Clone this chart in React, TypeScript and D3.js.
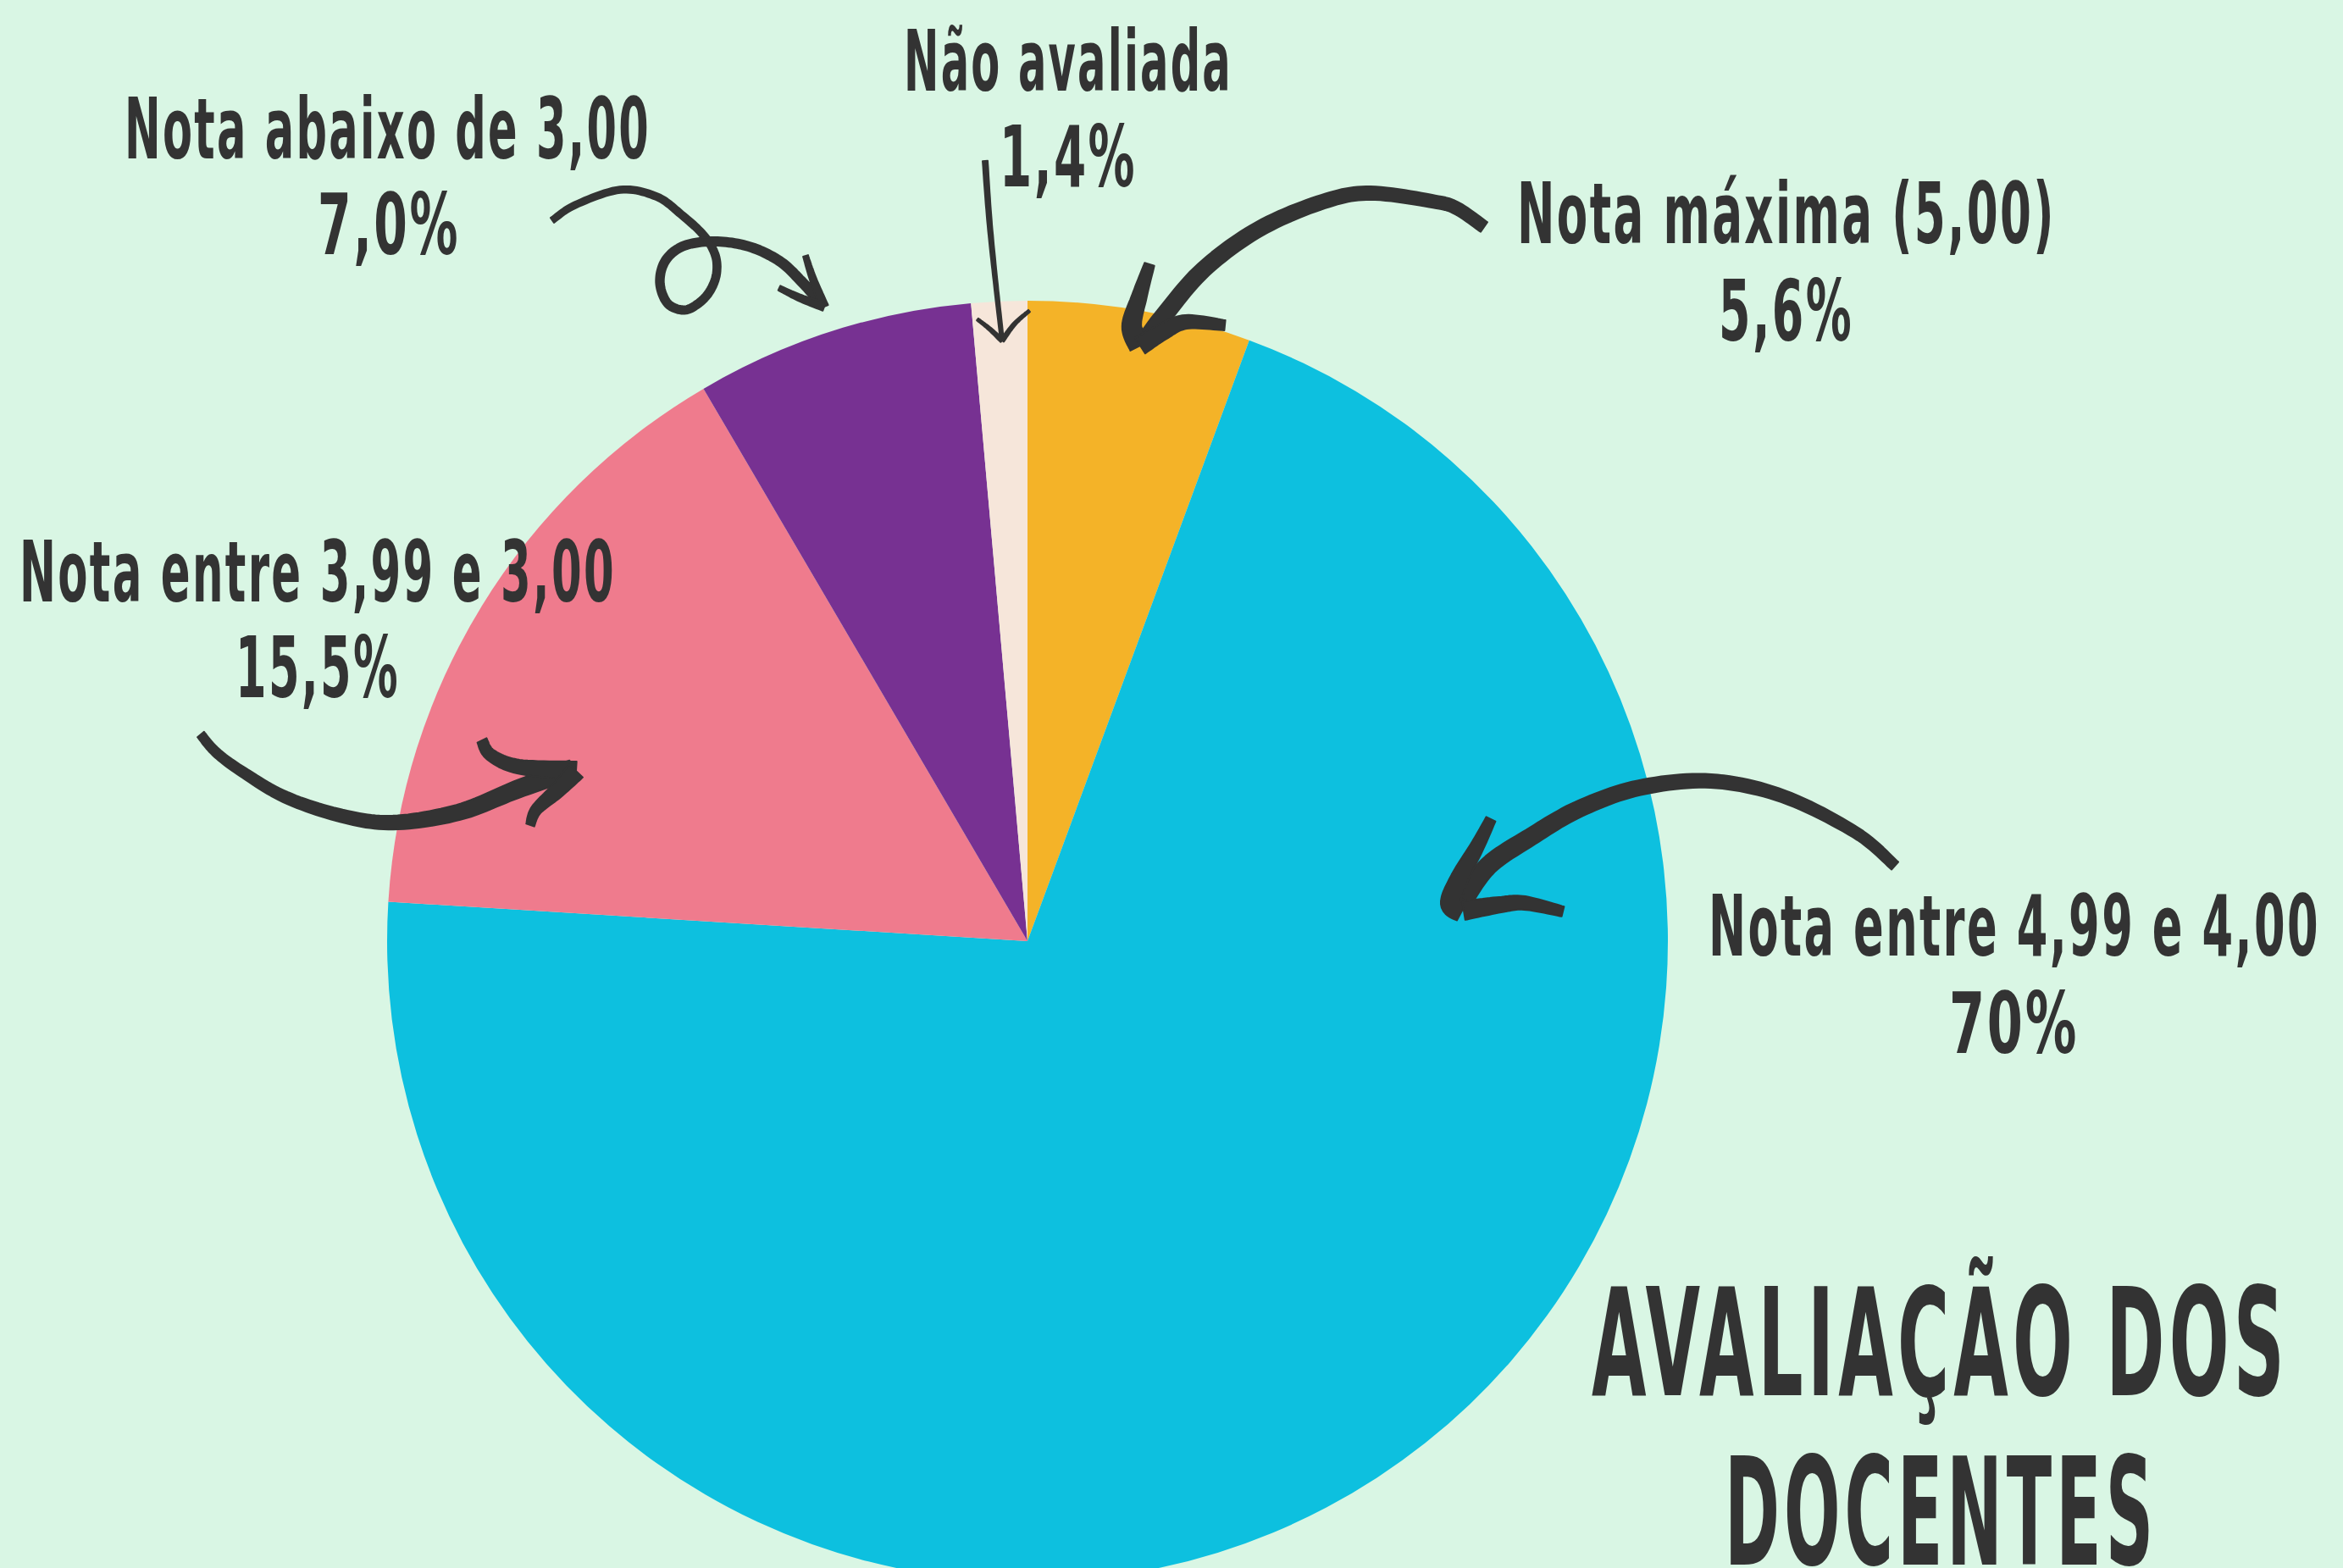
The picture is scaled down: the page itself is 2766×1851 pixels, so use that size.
import React, { useMemo } from "react";
import * as d3 from "d3";

// ---- data ----
const categories = [
  "Nota máxima (5,00)",
  "Nota entre 4,99 e 4,00",
  "Nota entre 3,99 e 3,00",
  "Nota abaixo de 3,00",
  "Não avaliada",
];
const values = [5.6, 70, 15.5, 7.0, 1.4];
const valueLabels = ["5,6%", "70%", "15,5%", "7,0%", "1,4%"];
const sliceColors = ["#f4b328", "#0dc0df", "#ef7b8d", "#773192", "#f6e6da"];
const titleLines = ["AVALIAÇÃO DOS", "DOCENTES"];

// ---- layout (annotation placement) ----
const W = 2766;
const H = 1851;
const CX = 1213;
const CY = 1111;
const R = 756;
const BG = "#d9f6e4";
const INK = "#333333";
const FONT = "'DejaVu Sans Condensed', 'DejaVu Sans', sans-serif";

const labelLayout = [
  { x: 1791, nameY: 287, nameW: 636, pctX: 2029, pctY: 402, pctW: 159 },
  { x: 2017, nameY: 1128, nameW: 722, pctX: 2301, pctY: 1243, pctW: 153 },
  { x: 23, nameY: 710, nameW: 704, pctX: 278, pctY: 823, pctW: 194 },
  { x: 147, nameY: 187, nameW: 621, pctX: 375, pctY: 300, pctW: 168 },
  { x: 1067, nameY: 107, nameW: 388, pctX: 1180, pctY: 220, pctW: 162 },
];
const titleLayout = [
  { x: 1879, y: 1647, w: 823 },
  { x: 2036, y: 1847, w: 511 },
];

type P = [number, number];
type Stroke = { pts: P[]; w0: number; w1: number };

const arrows: Stroke[][] = [
  // Nota máxima
  [
    { pts: [[1752, 268], [1720, 246], [1693, 238], [1618, 228], [1562, 238], [1487, 270], [1421, 318], [1372, 375], [1352, 403]], w0: 14, w1: 20 },
    { pts: [[1357, 312], [1345, 350], [1336, 385], [1346, 408]], w0: 12, w1: 26 },
    { pts: [[1446, 384], [1400, 380], [1372, 392], [1346, 408]], w0: 12, w1: 22 },
  ],
  // Nota entre 4,99 e 4,00
  [
    { pts: [[2237, 1022], [2191, 983], [2105, 940], [2020, 922], [1935, 930], [1864, 955], [1807, 988], [1757, 1022], [1725, 1066]], w0: 12, w1: 22 },
    { pts: [[1760, 967], [1745, 997], [1723, 1037], [1713, 1066], [1726, 1075]], w0: 12, w1: 26 },
    { pts: [[1845, 1076], [1800, 1066], [1771, 1068], [1728, 1075]], w0: 12, w1: 22 },
  ],
  // Nota entre 3,99 e 3,00
  [
    { pts: [[237, 867], [255, 888], [286, 911], [337, 941], [403, 963], [464, 971], [541, 959], [610, 932], [676, 908]], w0: 10, w1: 22 },
    { pts: [[569, 874], [579, 891], [612, 905], [680, 910]], w0: 12, w1: 22 },
    { pts: [[626, 974], [633, 956], [658, 933], [680, 910]], w0: 10, w1: 22 },
  ],
  // Nota abaixo de 3,00 (loop)
  [
    { pts: [[652, 260], [679, 242], [732, 224], [775, 232], [804, 253], [830, 277], [844, 300], [846, 322], [839, 342], [826, 357], [808, 366], [788, 358], [779, 333], [786, 307], [808, 290], [844, 285], [884, 291], [920, 308], [946, 332], [972, 361]], w0: 7, w1: 11 },
    { pts: [[951, 302], [960, 330], [973, 362]], w0: 6, w1: 10 },
    { pts: [[920, 340], [945, 352], [973, 362]], w0: 6, w1: 10 },
  ],
  // Não avaliada (thin)
  [
    { pts: [[1163, 190], [1168, 260], [1175, 330], [1183, 402]], w0: 6, w1: 4 },
    { pts: [[1154, 377], [1168, 388], [1183, 402]], w0: 3, w1: 5 },
    { pts: [[1215, 367], [1198, 382], [1183, 402]], w0: 3, w1: 5 },
  ],
];

function sampleCR(pts: P[], n = 12): P[] {
  const out: P[] = [];
  for (let i = 0; i < pts.length - 1; i++) {
    const p0 = pts[Math.max(i - 1, 0)];
    const p1 = pts[i];
    const p2 = pts[i + 1];
    const p3 = pts[Math.min(i + 2, pts.length - 1)];
    for (let s = 0; s < n; s++) {
      const t = s / n;
      const t2 = t * t;
      const t3 = t2 * t;
      const f = (k: 0 | 1) =>
        0.5 *
        (2 * p1[k] +
          (-p0[k] + p2[k]) * t +
          (2 * p0[k] - 5 * p1[k] + 4 * p2[k] - p3[k]) * t2 +
          (-p0[k] + 3 * p1[k] - 3 * p2[k] + p3[k]) * t3);
      out.push([f(0), f(1)]);
    }
  }
  out.push(pts[pts.length - 1]);
  return out;
}

function ribbon(s: Stroke): string {
  const pts = sampleCR(s.pts);
  const lens = [0];
  for (let i = 1; i < pts.length; i++) {
    lens.push(lens[i - 1] + Math.hypot(pts[i][0] - pts[i - 1][0], pts[i][1] - pts[i - 1][1]));
  }
  const total = lens[lens.length - 1] || 1;
  const left: P[] = [];
  const right: P[] = [];
  for (let i = 0; i < pts.length; i++) {
    const a = pts[Math.max(i - 1, 0)];
    const b = pts[Math.min(i + 1, pts.length - 1)];
    let dx = b[0] - a[0];
    let dy = b[1] - a[1];
    const L = Math.hypot(dx, dy) || 1;
    dx /= L;
    dy /= L;
    const w = (s.w0 + (s.w1 - s.w0) * (lens[i] / total)) / 2;
    left.push([pts[i][0] - dy * w, pts[i][1] + dx * w]);
    right.push([pts[i][0] + dy * w, pts[i][1] - dx * w]);
  }
  const poly = left.concat(right.reverse());
  return "M" + poly.map((p) => p[0].toFixed(1) + "," + p[1].toFixed(1)).join("L") + "Z";
}

export default function App() {
  const slices = useMemo(() => {
    const pie = d3
      .pie<number>()
      .sort(null)
      .value((d) => d)
      .startAngle(0)
      .endAngle(2 * Math.PI);
    return pie(values);
  }, []);
  const arc = d3.arc<d3.PieArcDatum<number>>().innerRadius(0).outerRadius(R);

  return (
    <svg
      width={W}
      height={H}
      viewBox={`0 0 ${W} ${H}`}
      style={{ position: "absolute", left: 0, top: 0, display: "block" }}
    >
      <rect x={0} y={0} width={W} height={H} fill={BG} />
      <g transform={`translate(${CX},${CY})`}>
        {slices.map((s, i) => (
          <path key={i} d={arc(s) || ""} fill={sliceColors[i]} />
        ))}
      </g>
      <g fill={INK} stroke={INK} strokeWidth={2} strokeLinejoin="round">
        {arrows.map((a, i) => (
          <g key={i}>
            {a.map((s, j) => (
              <path key={j} d={ribbon(s)} />
            ))}
          </g>
        ))}
      </g>
      <g fill={INK} fontFamily={FONT} fontWeight="bold">
        {categories.map((c, i) => {
          const L = labelLayout[i];
          return (
            <g key={i}>
              <text x={L.x} y={L.nameY} fontSize={99} letterSpacing={4} textLength={L.nameW} lengthAdjust="spacingAndGlyphs">
                {c}
              </text>
              <text x={L.pctX} y={L.pctY} fontSize={99} letterSpacing={4} textLength={L.pctW} lengthAdjust="spacingAndGlyphs">
                {valueLabels[i]}
              </text>
            </g>
          );
        })}
        {titleLines.map((t, i) => (
          <text
            key={i}
            x={titleLayout[i].x}
            y={titleLayout[i].y}
            fontSize={176}
            letterSpacing={10}
            textLength={titleLayout[i].w}
            lengthAdjust="spacingAndGlyphs"
          >
            {t}
          </text>
        ))}
      </g>
    </svg>
  );
}
